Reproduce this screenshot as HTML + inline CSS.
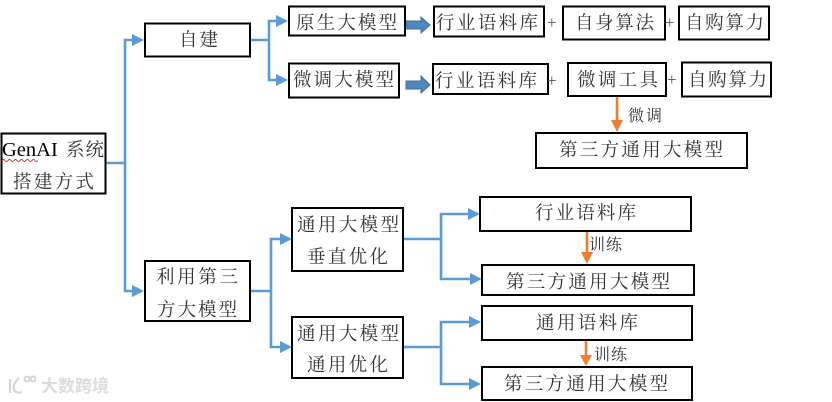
<!DOCTYPE html>
<html><head><meta charset="utf-8"><style>
html,body{margin:0;padding:0;background:#fff;width:832px;height:402px;overflow:hidden}
svg{display:block}
text{font-family:"Liberation Serif","Noto Serif CJK SC",serif;font-size:18.5px;fill:#333}
.b{fill:#fff;stroke:#000;stroke-width:2}
.l{fill:none;stroke:#5b9bd5;stroke-width:2.6}
.o{fill:none;stroke:#ed7d31;stroke-width:2.6}
.af{fill:#5b9bd5}.ao{fill:#ed7d31}
.fa{fill:#4f88bd;stroke:#41719c;stroke-width:1}
</style></head><body>
<svg width="832" height="402" viewBox="0 0 832 402" xmlns="http://www.w3.org/2000/svg">
<!-- connectors -->
<path class="l" d="M106 163H125V40H134M125 163V291H134"/>
<polygon class="af" points="132,34 144,40 132,46"/><polygon class="af" points="132,285 144,291 132,297"/>
<path class="l" d="M250 40H269V21H277M269 40V80H277"/>
<polygon class="af" points="276,15 288,21 276,27"/><polygon class="af" points="276,74 288,80 276,86"/>
<path class="l" d="M250 291H271V239H281M271 291V347H281"/>
<polygon class="af" points="280,233 292,239 280,245"/><polygon class="af" points="280,341 292,347 280,353"/>
<path class="l" d="M403 239H441V214H469M441 239V279H470"/>
<polygon class="af" points="468,208 480,214 468,220"/><polygon class="af" points="470,273 482,279 470,285"/>
<path class="l" d="M403 347H441V322H470M441 347V384H470"/>
<polygon class="af" points="469,316 481,322 469,328"/><polygon class="af" points="469,378 481,384 469,390"/>
<!-- fat arrows -->
<polygon class="fa" points="406,21 421,21 421,17 430,25 421,33 421,29 406,29"/>
<polygon class="fa" points="406,81 421,81 421,76 430,85 421,93 421,89 406,89"/>
<!-- orange arrows -->
<path class="o" d="M617 96V122"/><polygon class="ao" points="611,120 623,120 617,132"/>
<path class="o" d="M587 231V255"/><polygon class="ao" points="581,252 593,252 587,264"/>
<path class="o" d="M586 340V358"/><polygon class="ao" points="580,355 592,355 586,366"/>
<!-- boxes -->
<rect class="b" x="1.5" y="133.5" width="104" height="60"/>
<rect class="b" x="145" y="23.5" width="105" height="33"/>
<rect class="b" x="289" y="6.5" width="116" height="29"/>
<rect class="b" x="289" y="63.5" width="110" height="34"/>
<rect class="b" x="434" y="6.5" width="110" height="30"/>
<rect class="b" x="563" y="6.5" width="102" height="33"/>
<rect class="b" x="679" y="6.5" width="90" height="33"/>
<rect class="b" x="433" y="64" width="115" height="30"/>
<rect class="b" x="568" y="63" width="98" height="33"/>
<rect class="b" x="682" y="62.5" width="89" height="34"/>
<rect class="b" x="536" y="133" width="211" height="35"/>
<rect class="b" x="480" y="197" width="211" height="34"/>
<rect class="b" x="482" y="265" width="212" height="30"/>
<rect class="b" x="482" y="306" width="210" height="34"/>
<rect class="b" x="482" y="367" width="210" height="33"/>
<rect class="b" x="145" y="261" width="105" height="60"/>
<rect class="b" x="292" y="208" width="111" height="63"/>
<rect class="b" x="292" y="317" width="111" height="61"/>
<!-- labels -->
<text x="2" y="156" style="fill:#000;font-size:20.5px">GenAI</text>
<path d="M2 160.5q1.5 -2 3 0t3 0t3 0t3 0t3 0t3 0t3 0t3 0t3 0t3 0t3 0t3 0" fill="none" stroke="#c33" stroke-width="1"/>
<text x="66" y="156" textLength="38" lengthAdjust="spacing">系统</text>
<text x="13" y="188" textLength="81" lengthAdjust="spacing">搭建方式</text>
<text x="179" y="46" textLength="39" lengthAdjust="spacing">自建</text>
<text x="296" y="29" textLength="101" lengthAdjust="spacing">原生大模型</text>
<text x="293" y="86" textLength="101" lengthAdjust="spacing">微调大模型</text>
<text x="436" y="29" textLength="102" lengthAdjust="spacing">行业语料库</text>
<text x="575" y="29" textLength="79" lengthAdjust="spacing">自身算法</text>
<text x="685" y="29" textLength="79" lengthAdjust="spacing">自购算力</text>
<text x="435" y="87" textLength="102" lengthAdjust="spacing">行业语料库</text>
<text x="577" y="86" textLength="81" lengthAdjust="spacing">微调工具</text>
<text x="688" y="86" textLength="79" lengthAdjust="spacing">自购算力</text>
<text x="559" y="156" textLength="164" lengthAdjust="spacing">第三方通用大模型</text>
<text x="535" y="219" textLength="101" lengthAdjust="spacing">行业语料库</text>
<text x="506" y="288" textLength="164" lengthAdjust="spacing">第三方通用大模型</text>
<text x="536" y="329" textLength="102" lengthAdjust="spacing">通用语料库</text>
<text x="504" y="390" textLength="164" lengthAdjust="spacing">第三方通用大模型</text>
<text x="156" y="283" textLength="82" lengthAdjust="spacing">利用第三</text>
<text x="157" y="316" textLength="80" lengthAdjust="spacing">方大模型</text>
<text x="297" y="231" textLength="102" lengthAdjust="spacing">通用大模型</text>
<text x="307" y="263" textLength="81" lengthAdjust="spacing">垂直优化</text>
<text x="297" y="340" textLength="102" lengthAdjust="spacing">通用大模型</text>
<text x="307" y="371" textLength="81" lengthAdjust="spacing">通用优化</text>
<text x="628" y="121" style="font-size:16px" textLength="34" lengthAdjust="spacing">微调</text>
<text x="589" y="250" style="font-size:16px" textLength="33" lengthAdjust="spacing">训练</text>
<text x="594" y="360" style="font-size:16px" textLength="33" lengthAdjust="spacing">训练</text>
<text x="547" y="28" style="font-size:17px;fill:#555">+</text>
<text x="665" y="28" style="font-size:17px;fill:#555">+</text>
<text x="547" y="86" style="font-size:17px;fill:#555">+</text>
<text x="667" y="85" style="font-size:17px;fill:#555">+</text>
<!-- watermark -->
<g fill="none" stroke="#d4d4d4" stroke-width="2">
<path d="M10 379V393M19 378Q12 385 14 390Q17 394 22 392"/>
<circle cx="27" cy="379" r="2.5"/><circle cx="33" cy="379" r="2.5"/>
</g>
<text x="41" y="392" textLength="68" lengthAdjust="spacing" style="font-family:'Liberation Sans','Noto Sans CJK SC',sans-serif;font-size:17px;font-weight:700;fill:#dcdcdc">大数跨境</text>
</svg>
</body></html>
